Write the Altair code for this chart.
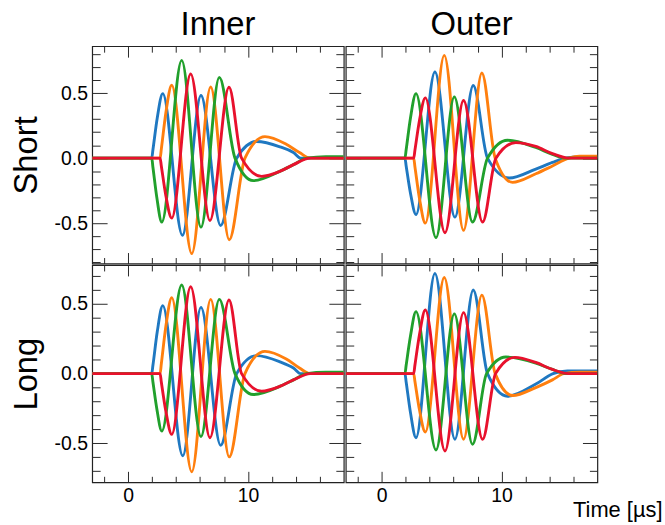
import altair as alt
import pandas as pd

FONT = "Liberation Sans"
SERIES = ["blue", "orange", "green", "red"]
COLORS = ["#1f78c1", "#ff7f0e", "#21a02c", "#e8112d"]

# ---- waveform samples: (time [µs], amplitude) ----
inner_short_blue = [(-3, 0), (1.97, 0), (2.07, 0.065), (2.43, 0.31), (2.89, 0.497), (4.53, -0.594),
                    (6.08, 0.482), (7.72, -0.518), (9.06, 0), (10.72, 0.128), (12.67, 0.087),
                    (13.8, 0.043), (14.4, 0), (18, 0)]
inner_short_orange = [(-3, 0), (2.67, 0), (2.77, 0.07), (3.15, 0.35), (3.64, 0.561), (5.31, -0.735),
                      (6.89, 0.548), (8.44, -0.628), (9.75, 0), (11.42, 0.166), (13.2, 0.107),
                      (14.3, 0.043), (15.2, 0), (18, 0)]
inner_short_green = [(-3, 0), (1.97, 0), (2.07, -0.07), (2.39, -0.30), (2.81, -0.492), (4.47, 0.753),
                     (6.08, -0.531), (7.61, 0.622), (8.92, 0), (10.44, -0.173), (12.7, -0.1),
                     (13.8, -0.05), (14.9, 0), (16.5, 0.012), (18, 0.012)]
inner_short_red = [(-3, 0), (2.67, 0), (2.77, -0.06), (3.15, -0.29), (3.64, -0.462), (5.22, 0.648),
                   (6.83, -0.48), (8.42, 0.546), (9.47, 0), (11.14, -0.14), (12.7, -0.1),
                   (13.8, -0.05), (15.2, 0), (18, 0)]

outer_short_blue = [(-3, 0), (1.94, 0), (2.04, -0.06), (2.4, -0.27), (2.86, -0.434), (4.44, 0.663),
                    (6.11, -0.454), (7.64, 0.559), (8.83, 0), (10.64, -0.153), (12.86, -0.084),
                    (14.25, -0.033), (15.36, 0), (16.5, 0.01), (18, 0.01)]
outer_short_orange = [(-3, 0), (2.67, 0), (2.77, -0.065), (3.15, -0.31), (3.64, -0.5), (5.22, 0.791),
                      (6.83, -0.556), (8.36, 0.656), (9.47, 0), (10.92, -0.186), (12.86, -0.12),
                      (14.25, -0.06), (15.6, 0), (16.5, 0.015), (18, 0.015)]
outer_short_green = [(-3, 0), (1.94, 0), (2.04, 0.065), (2.4, 0.31), (2.86, 0.497), (4.53, -0.612),
                     (6.06, 0.472), (7.58, -0.492), (8.83, 0), (10.5, 0.138), (12.86, 0.082),
                     (14.25, 0.03), (15.36, 0), (18, 0)]
outer_short_red = [(-3, 0), (2.67, 0), (2.77, 0.06), (3.15, 0.29), (3.64, 0.464), (5.28, -0.574),
                   (6.83, 0.444), (8.42, -0.492), (9.53, 0), (11.19, 0.12), (12.86, 0.09),
                   (14.25, 0.035), (15.6, 0), (18, 0)]

inner_long_blue = [(-3, 0), (1.97, 0), (2.07, 0.06), (2.43, 0.30), (2.89, 0.488), (4.56, -0.59),
                   (6.08, 0.476), (7.72, -0.514), (9.06, 0), (10.72, 0.129), (12.67, 0.085),
                   (13.8, 0.04), (14.4, 0), (18, 0)]
inner_long_orange = [(-3, 0), (2.67, 0), (2.77, 0.07), (3.15, 0.34), (3.64, 0.545), (5.31, -0.705),
                     (6.89, 0.533), (8.44, -0.598), (9.75, 0), (11.42, 0.16), (13.2, 0.105),
                     (14.3, 0.04), (15.2, 0), (18, 0)]
inner_long_green = [(-3, 0), (1.97, 0), (2.07, -0.06), (2.39, -0.25), (2.81, -0.412), (4.47, 0.636),
                    (6.08, -0.452), (7.61, 0.533), (8.92, 0), (10.44, -0.15), (12.7, -0.09),
                    (13.8, -0.045), (14.9, 0), (16.5, 0.01), (18, 0.01)]
inner_long_red = [(-3, 0), (2.67, 0), (2.77, -0.06), (3.15, -0.27), (3.64, -0.436), (5.22, 0.624),
                  (6.83, -0.46), (8.42, 0.529), (9.47, 0), (11.14, -0.126), (12.7, -0.09),
                  (13.8, -0.045), (15.2, 0), (18, 0)]

outer_long_blue = [(-3, 0), (1.94, 0), (2.04, -0.06), (2.4, -0.28), (2.86, -0.46), (4.44, 0.719),
                   (6.11, -0.471), (7.64, 0.6), (8.83, 0), (10.5, -0.162), (12.86, -0.075),
                   (14.3, 0), (15.5, 0.02), (18, 0.02)]
outer_long_orange = [(-3, 0), (2.67, 0), (2.77, -0.055), (3.15, -0.26), (3.64, -0.419), (5.22, 0.69),
                     (6.83, -0.471), (8.36, 0.564), (9.47, 0), (10.92, -0.157), (12.86, -0.1),
                     (14.25, -0.045), (15.2, 0), (16.5, 0.01), (18, 0.01)]
outer_long_green = [(-3, 0), (1.94, 0), (2.04, 0.06), (2.4, 0.27), (2.86, 0.445), (4.53, -0.548),
                    (6.06, 0.429), (7.58, -0.507), (8.75, 0), (10.36, 0.119), (12.86, 0.075),
                    (14.25, 0.03), (15.4, 0), (18, 0)]
outer_long_red = [(-3, 0), (2.67, 0), (2.77, 0.06), (3.15, 0.28), (3.64, 0.457), (5.28, -0.555),
                  (6.83, 0.438), (8.42, -0.471), (9.5, 0), (11.11, 0.117), (12.86, 0.08),
                  (14.25, 0.03), (15.6, 0), (18, 0)]

CURVES = {
    ("Inner", "Short"): [inner_short_blue, inner_short_orange, inner_short_green, inner_short_red],
    ("Outer", "Short"): [outer_short_blue, outer_short_orange, outer_short_green, outer_short_red],
    ("Inner", "Long"): [inner_long_blue, inner_long_orange, inner_long_green, inner_long_red],
    ("Outer", "Long"): [outer_long_blue, outer_long_orange, outer_long_green, outer_long_red],
}

# ---- axes ----
X_DOMAIN = [-3, 18]
X_MAJOR = [0, 10]
X_MINOR = [-2, 2, 4, 6, 8, 12, 14, 16]
Y_DOMAIN = {"Short": [-0.811, 0.862], "Long": [-0.78, 0.78]}
Y_MAJOR = [-0.5, 0.0, 0.5]
Y_MINOR = {
    "Short": [-0.8, -0.7, -0.6, -0.4, -0.3, -0.2, -0.1, 0.1, 0.2, 0.3, 0.4, 0.6, 0.7, 0.8],
    "Long": [-0.7, -0.6, -0.4, -0.3, -0.2, -0.1, 0.1, 0.2, 0.3, 0.4, 0.6, 0.7],
}
X_TICK_MAJOR, X_TICK_MINOR = 11, 6
Y_TICK_MAJOR, Y_TICK_MINOR = 15, 8
TICK_COLOR = "#2a2a2a"
FRAME_WIDTH = 1.2
PANEL_W, PANEL_H = 253, 218.5
# neighbouring panels share one frame line: cancel the stroke margin of both cells
GAP = -2 * FRAME_WIDTH


def tick_axis(orient, values, size, **extra):
    """Ticks drawn inward from the frame (axis line shifted inside by the tick length)."""
    opts = dict(orient=orient, values=values, tickSize=size, offset=-size,
                tickColor=TICK_COLOR, tickWidth=1, domain=False, grid=False,
                labels=False, title=None, minExtent=0, maxExtent=0)
    opts.update(extra)
    return alt.Axis(**opts)


def panel(col, row, left_labels, bottom_labels, x_title=False):
    rows = []
    for name, pts in zip(SERIES, CURVES[(col, row)]):
        for t, v in pts:
            rows.append({"series": name, "t": t, "v": v})
    df = pd.DataFrame(rows)

    xs = alt.Scale(domain=X_DOMAIN, nice=False, zero=False)
    ys = alt.Scale(domain=Y_DOMAIN[row], nice=False, zero=False)

    x_extra = {}
    if bottom_labels:
        x_extra = dict(labels=True, labelFont=FONT, labelFontSize=19.5, labelColor="black",
                       labelPadding=4.2, maxExtent=200)
        if x_title:
            x_extra.update(title="Time [µs]", titleFont=FONT, titleFontSize=22,
                           titleFontWeight="normal", titleColor="black", titleX=318,
                           titleY=45, titleAlign="right", titleBaseline="alphabetic")
    y_extra = {}
    if left_labels:
        y_extra = dict(labels=True, labelFont=FONT, labelFontSize=19.5, labelColor="black",
                       labelPadding=4.7, maxExtent=200,
                       labelExpr="datum.value < 0 ? '-' + format(-datum.value, '.1f') : format(datum.value, '.1f')",
                       title=row, titleFont=FONT, titleFontSize=33, titleFontWeight="normal",
                       titleColor="black", titlePadding=11)

    base = alt.Chart(df)
    lines = base.mark_line(interpolate="monotone", strokeWidth=2.9, clip=True).encode(
        x=alt.X("t:Q", scale=xs, axis=tick_axis("bottom", X_MAJOR, X_TICK_MAJOR, **x_extra)),
        y=alt.Y("v:Q", scale=ys, axis=tick_axis("left", Y_MAJOR, Y_TICK_MAJOR, **y_extra)),
        color=alt.Color("series:N", scale=alt.Scale(domain=SERIES, range=COLORS), legend=None),
    )
    hidden = base.mark_line(opacity=0, clip=True)
    minor_bl = hidden.encode(
        x=alt.X("t:Q", scale=xs, axis=tick_axis("bottom", X_MINOR, X_TICK_MINOR)),
        y=alt.Y("v:Q", scale=ys, axis=tick_axis("left", Y_MINOR[row], Y_TICK_MINOR)),
    )
    major_tr = hidden.encode(
        x=alt.X("t:Q", scale=xs, axis=tick_axis("top", X_MAJOR, X_TICK_MAJOR)),
        y=alt.Y("v:Q", scale=ys, axis=tick_axis("right", Y_MAJOR, Y_TICK_MAJOR)),
    )
    minor_tr = hidden.encode(
        x=alt.X("t:Q", scale=xs, axis=tick_axis("top", X_MINOR, X_TICK_MINOR)),
        y=alt.Y("v:Q", scale=ys, axis=tick_axis("right", Y_MINOR[row], Y_TICK_MINOR)),
    )
    layered = alt.layer(minor_bl, major_tr, minor_tr, lines).resolve_axis(
        x="independent", y="independent"
    ).properties(width=PANEL_W, height=PANEL_H)
    if row == "Short":
        layered = layered.properties(
            title=alt.TitleParams(col, font=FONT, fontSize=33, fontWeight="normal",
                                  color="black", anchor="middle", baseline="alphabetic",
                                  offset=12, dy=34)
        )
    return layered


top = alt.hconcat(panel("Inner", "Short", True, False), panel("Outer", "Short", False, False), spacing=GAP)
bottom = alt.hconcat(panel("Inner", "Long", True, True), panel("Outer", "Long", False, True, x_title=True), spacing=GAP)

chart = (
    alt.vconcat(top, bottom, spacing=GAP)
    .properties(padding={"left": 9.7, "top": 6, "right": 2, "bottom": 2}, background="white")
    .configure_view(stroke="#222222", strokeWidth=FRAME_WIDTH)
)

chart.save("out.html", embed_options={"renderer": "svg", "actions": False})
